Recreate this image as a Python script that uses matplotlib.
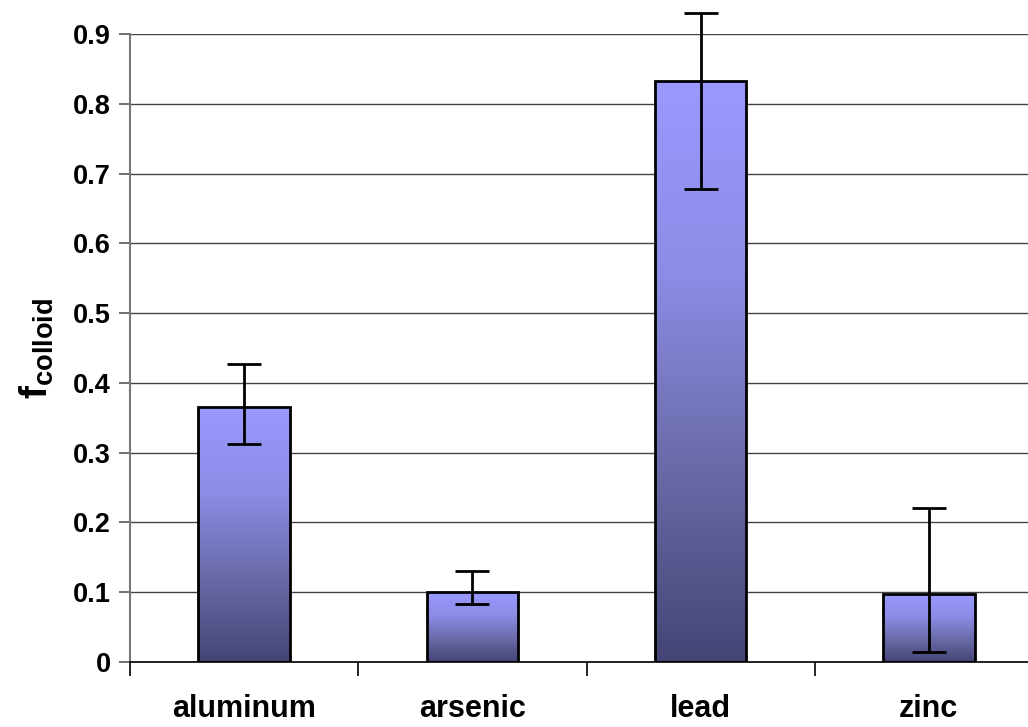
import matplotlib.pyplot as plt
import numpy as np
from matplotlib.colors import LinearSegmentedColormap

plt.rcParams['font.family'] = ['Liberation Sans', 'DejaVu Sans']
plt.rcParams['font.weight'] = 'bold'
plt.rcParams['mathtext.fontset'] = 'custom'
plt.rcParams['mathtext.bf'] = 'Liberation Sans:bold'
plt.rcParams['mathtext.rm'] = 'Liberation Sans:bold'

# data
metals = ['aluminum', 'arsenic', 'lead', 'zinc']
f_colloid = [0.365, 0.100, 0.832, 0.097]
err_low = [0.313, 0.083, 0.678, 0.015]
err_high = [0.427, 0.130, 0.930, 0.220]

bar_width = 0.40
cmap = LinearSegmentedColormap.from_list('bar', ['#444575', '#6a6aa8', '#8c8ce6', '#9999ff'])

fig = plt.figure(figsize=(10.28, 7.27), dpi=100)
ax = fig.add_axes([130 / 1028, 65 / 727, 913 / 1028, 628 / 727])

x = np.arange(len(metals))
gradient = np.linspace(0, 1, 256).reshape(-1, 1)
for xi, val in zip(x, f_colloid):
    ax.imshow(gradient, cmap=cmap, origin='lower', aspect='auto',
              extent=[xi - bar_width / 2, xi + bar_width / 2, 0, val], zorder=2)
ax.bar(x, f_colloid, width=bar_width, facecolor='none', edgecolor='black',
       linewidth=2, zorder=3)

yerr = [np.array(f_colloid) - np.array(err_low), np.array(err_high) - np.array(f_colloid)]
eb = ax.errorbar(x, f_colloid, yerr=yerr, fmt='none', ecolor='black',
                 elinewidth=2, capsize=12, capthick=2, zorder=4)
for part in eb.lines[1] + eb.lines[2]:
    part.set_clip_on(False)

ax.set_xlim(-0.5, 3.5)
ax.set_ylim(0, 0.9)
ax.set_yticks(np.arange(0, 0.91, 0.1))
ax.set_yticklabels(['0'] + ['%.1f' % v for v in np.arange(0.1, 0.91, 0.1)], fontsize=19.5)
ax.yaxis.grid(True, color='#444444', linewidth=1)
ax.set_axisbelow(True)

ax.set_xticks(np.arange(-0.5, 3.6, 1))
ax.set_xticklabels([])
ax.set_xticks(x, minor=True)
ax.set_xticklabels(metals, minor=True, fontsize=22)
ax.tick_params(axis='x', which='minor', length=0, pad=23)
ax.tick_params(axis='x', which='major', length=10, width=1.2, color='black')
ax.tick_params(axis='y', length=8, width=1.2, color='#555555', pad=6)

for side in ['top', 'right']:
    ax.spines[side].set_visible(False)
ax.spines['left'].set_color('#777777')
ax.spines['left'].set_linewidth(1.5)
ax.spines['bottom'].set_color('black')
ax.spines['bottom'].set_linewidth(1.2)

ax.set_ylabel(r'$\mathbf{f}_{\mathbf{colloid}}$', fontsize=28, labelpad=12)

fig.savefig('out.png', dpi=100)
